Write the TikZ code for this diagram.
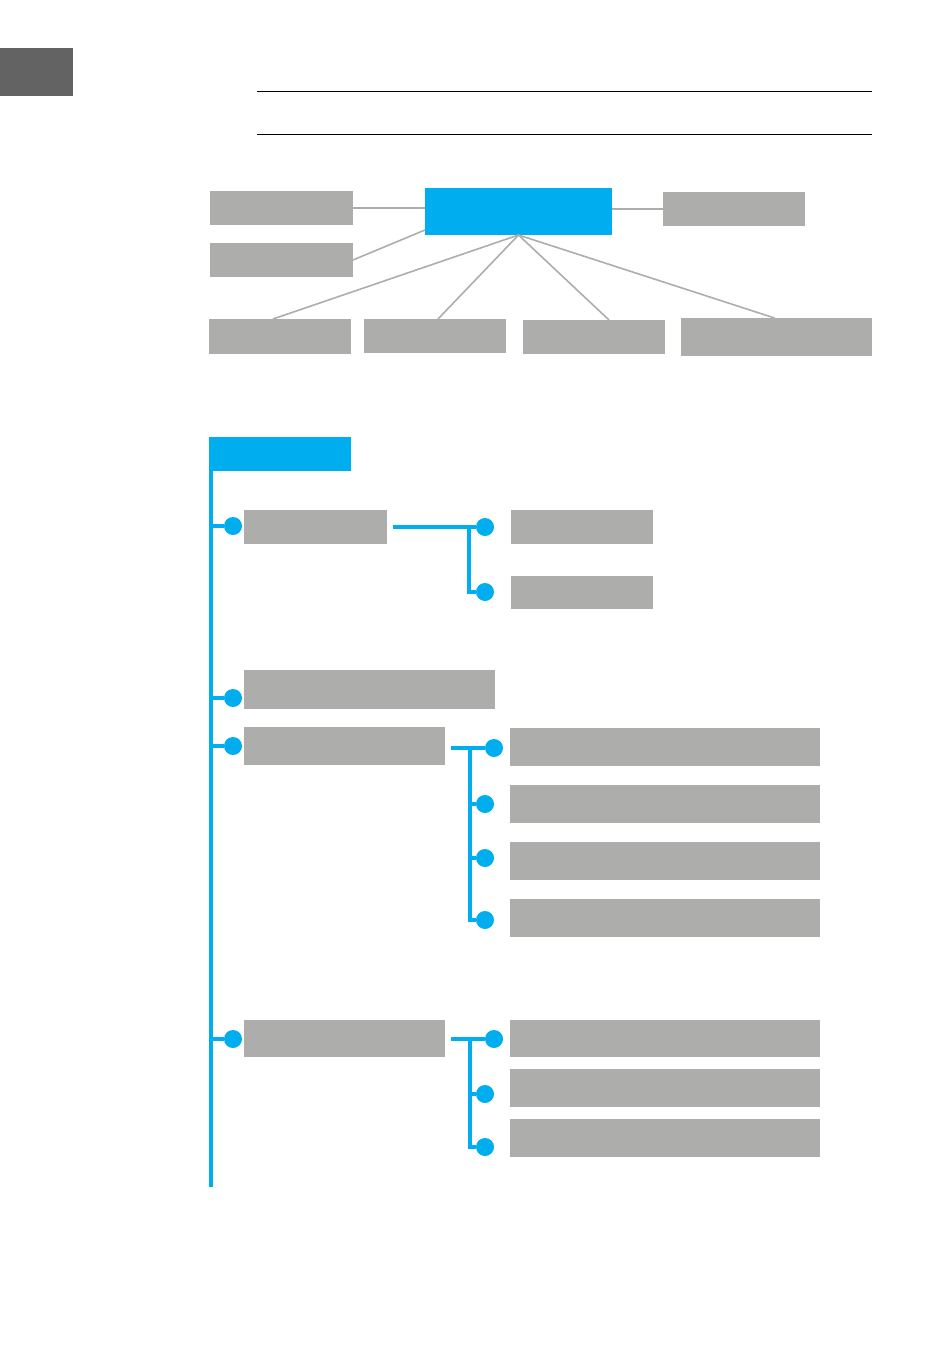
\documentclass[tikz,border=0pt]{standalone}
\usepackage{tikz}
\usetikzlibrary{positioning}
\definecolor{cyanblue}{HTML}{00AEEF}
\definecolor{boxgrey}{HTML}{ADADAC}
\definecolor{tabgrey}{HTML}{636363}

\begin{document}
\begin{tikzpicture}[x=1pt, y=-1pt,
      box/.style={fill=boxgrey, anchor=north west, inner sep=0pt, outer sep=0pt},
      head/.style={fill=cyanblue, anchor=north west, inner sep=0pt, outer sep=0pt},
      tab/.style={fill=tabgrey, anchor=north west, inner sep=0pt, outer sep=0pt, minimum width=73pt, minimum height=48pt},
      rule/.style={draw=black, line width=0.9pt},
      link/.style={draw=boxgrey, line width=1.6pt},
      branch/.style={draw=cyanblue, line width=4pt},
      dot/.style={circle, fill=cyanblue, inner sep=0pt, minimum size=18pt}
    ]
    \useasboundingbox (0,0) rectangle (950,1348);
    \node[tab] (tab) at (0,48) {};
    \coordinate (ruleA) at (257,91);
    \coordinate (ruleB) at (257,134);
    \draw[rule] (ruleA) -- ++(615,0);
    \draw[rule] (ruleB) -- ++(615,0);

    \node[head, minimum width=187pt, minimum height=47pt] (hub) at (425,188) {};
    \node[box, minimum width=143pt, minimum height=34pt] (left1) at (210,191) {};
    \node[box, minimum width=143pt, minimum height=34pt] (left2) at (210,243) {};
    \node[box, minimum width=142pt, minimum height=34pt] (right1) at (663,192) {};
    \node[box, minimum width=142pt, minimum height=35pt] (low1) at (209,319) {};
    \node[box, minimum width=142pt, minimum height=34pt] (low2) at (364,319) {};
    \node[box, minimum width=142pt, minimum height=34pt] (low3) at (523,320) {};
    \node[box, minimum width=191pt, minimum height=38pt] (low4) at (681,318) {};
    \draw[link] (left1.east) -- (left1.east -| hub.west);
    \draw[link] (left2.east) -- ([yshift=5pt]hub.south west);
    \draw[link] (hub.east |- right1.west) -- (right1.west);
    \draw[link] (hub.south) -- ([xshift=-7pt]low1.north);
    \draw[link] (hub.south) -- ([xshift=3pt]low2.north);
    \draw[link] (hub.south) -- ([xshift=15pt]low3.north);
    \draw[link] (hub.south) -- ([xshift=-2pt]low4.north);

    \node[head, minimum width=142pt, minimum height=34pt] (root) at (209,437) {};
    \coordinate (spineend) at (211,1187);
    \draw[branch] ([xshift=2pt]root.south west) -- (spineend);

    \node[box, minimum width=143pt, minimum height=34pt] (item1) at (244,510) {};
    \node[box, minimum width=251pt, minimum height=39pt] (item2) at (244,670) {};
    \node[box, minimum width=201pt, minimum height=38pt] (item3) at (244,727) {};
    \node[box, minimum width=201pt, minimum height=37pt] (item4) at (244,1020) {};
    \node[dot] (dot1) at (233,526) {};
    \node[dot] (dot2) at (233,698) {};
    \node[dot] (dot3) at (233,746) {};
    \node[dot] (dot4) at (233,1039) {};
    \foreach \d in {dot1,dot2,dot3,dot4}
      \draw[branch] (\d.west) -- (\d -| spineend);

    \node[box, minimum width=142pt, minimum height=34pt] (sub11) at (511,510) {};
    \node[box, minimum width=142pt, minimum height=33pt] (sub12) at (511,576) {};
    \node[dot] (sdot11) at (485,527) {};
    \node[dot] (sdot12) at (485,592) {};
    \coordinate (join1) at (469,527);
    \draw[branch] (393,527) -- (sdot11.west);
    \draw[branch] (join1) |- (sdot12.west);

    \node[box, minimum width=310pt, minimum height=38pt] (sub21) at (510,728) {};
    \node[box, minimum width=310pt, minimum height=38pt] (sub22) at (510,785) {};
    \node[box, minimum width=310pt, minimum height=38pt] (sub23) at (510,842) {};
    \node[box, minimum width=310pt, minimum height=38pt] (sub24) at (510,899) {};
    \node[dot] (sdot21) at (494,748) {};
    \node[dot] (sdot22) at (485,804) {};
    \node[dot] (sdot23) at (485,858) {};
    \node[dot] (sdot24) at (485,920) {};
    \coordinate (join2) at (470,748);
    \draw[branch] ([xshift=6pt]item3.east |- sdot21) -- (sdot21.west);
    \draw[branch] (join2) |- (sdot24.west);
    \draw[branch] (sdot22.west) -- (sdot22 -| join2);
    \draw[branch] (sdot23.west) -- (sdot23 -| join2);

    \node[box, minimum width=310pt, minimum height=37pt] (sub31) at (510,1020) {};
    \node[box, minimum width=310pt, minimum height=38pt] (sub32) at (510,1069) {};
    \node[box, minimum width=310pt, minimum height=38pt] (sub33) at (510,1119) {};
    \node[dot] (sdot31) at (494,1039) {};
    \node[dot] (sdot32) at (485,1094) {};
    \node[dot] (sdot33) at (485,1147) {};
    \coordinate (join3) at (470,1039);
    \draw[branch] ([xshift=6pt]item4.east |- sdot31) -- (sdot31.west);
    \draw[branch] (join3) |- (sdot33.west);
    \draw[branch] (sdot32.west) -- (sdot32 -| join3);
  \end{tikzpicture}
\end{document}
